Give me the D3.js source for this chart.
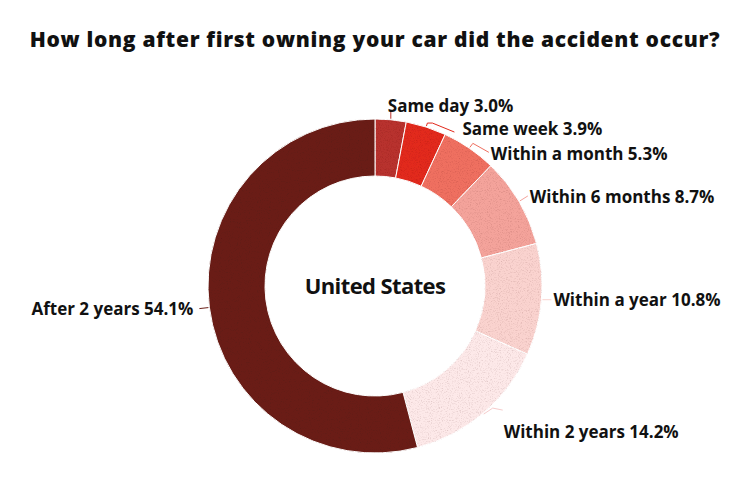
<!DOCTYPE html>
<html><head><meta charset="utf-8">
<script src="https://cdn.jsdelivr.net/npm/d3@7"></script>
<style>
html,body{margin:0;padding:0;background:#fff;}
svg{display:block;}
</style></head>
<body>
<svg id="chart" width="750" height="502"></svg>
<script>
const title = "How long after first owning your car did the accident occur?";
const centerLabel = "United States";
const categories = ["Same day","Same week","Within a month","Within 6 months","Within a year","Within 2 years","After 2 years"];
const values = [3.0, 3.9, 5.3, 8.7, 10.8, 14.2, 54.1];
const colors = ["#b8312d","#e2291c","#ef6f60","#f4a39b","#fad3cf","#fde9e9","#6b1f18"];
// label anchor offsets relative to leader start (layout only)
const labelLayout = [
  {pts:[[0,-7]], tx:-3, ty:-13, anchor:"start"},
  {pts:[[1,-3],[6,-3],[28,6]], tx:36, ty:3, anchor:"start"},
  {pts:[[3,-4],[19,5]], tx:21, ty:7, anchor:"start"},
  {pts:[[8,-5]], tx:10, ty:-4, anchor:"start"},
  {pts:[[9,0]], tx:11, ty:0, anchor:"start"},
  {pts:[[9,-6],[19,-4]], tx:20, ty:18, anchor:"start"},
  {pts:[[-9,1]], tx:-15, ty:1, anchor:"end"}
];

const svg = d3.select("#chart");
const cx = 375, cy = 286, R = 167, r = 110;

const defs = svg.append("defs");
const f = defs.append("filter").attr("id","grain").attr("x",0).attr("y",0).attr("width","100%").attr("height","100%");
f.append("feTurbulence").attr("type","fractalNoise").attr("baseFrequency","0.9").attr("numOctaves",2).attr("seed",3).attr("result","noise");
f.append("feColorMatrix").attr("in","noise").attr("type","matrix")
  .attr("values","0 0 0 0 0.75  0 0 0 0 0.68  0 0 0 0 0.68  0 0 0 -2.4 1.2").attr("result","speck");
f.append("feComposite").attr("in","speck").attr("in2","SourceGraphic").attr("operator","in").attr("result","sp");
f.append("feBlend").attr("in","sp").attr("in2","SourceGraphic").attr("mode","multiply");

svg.append("text").attr("x",375).attr("y",47).attr("text-anchor","middle")
  .attr("font-family","'Open Sans', sans-serif").attr("font-weight",800).attr("font-size",21)
  .attr("letter-spacing",0.7).attr("fill","#111").text(title);

const data = categories.map((c,i)=>({cat:c, value:values[i], color:colors[i], i}));
const pie = d3.pie().sort(null).value(d=>d.value);
const arcs = pie(data);
const arc = d3.arc().innerRadius(r).outerRadius(R);

const g = svg.append("g").attr("transform",`translate(${cx},${cy})`);
g.append("g").attr("filter","url(#grain)").selectAll("path").data(arcs).join("path")
  .attr("d",arc).attr("fill",d=>d.data.color).attr("stroke","#fff").attr("stroke-width",1);

g.append("text").attr("x",0).attr("y",8).attr("text-anchor","middle")
  .attr("font-family","'Open Sans', sans-serif").attr("font-weight",700).attr("font-size",22)
  .attr("fill","#111").attr("letter-spacing",-0.6).text(centerLabel);

const fmt = d3.format(".1f");
arcs.forEach((a,i)=>{
  const mid = (a.startAngle+a.endAngle)/2;
  const p0 = [Math.sin(mid)*(R+1), -Math.cos(mid)*(R+1)];
  const L = labelLayout[i];
  const pts = [p0].concat(L.pts.map(p=>[p0[0]+p[0], p0[1]+p[1]]));
  g.append("path").attr("d", d3.line()(pts)).attr("fill","none")
    .attr("stroke", a.data.color === "#fde9e9" ? "#f6cccc" : a.data.color).attr("stroke-width",1);
  g.append("text").attr("x",p0[0]+L.tx).attr("y",p0[1]+L.ty).attr("dy","0.35em")
    .attr("text-anchor",L.anchor)
    .attr("font-family","'Open Sans', sans-serif").attr("font-weight",700).attr("font-size",17)
    .attr("fill","#111")
    .text(`${a.data.cat} ${fmt(a.data.value)}%`);
});
</script>
</body></html>
